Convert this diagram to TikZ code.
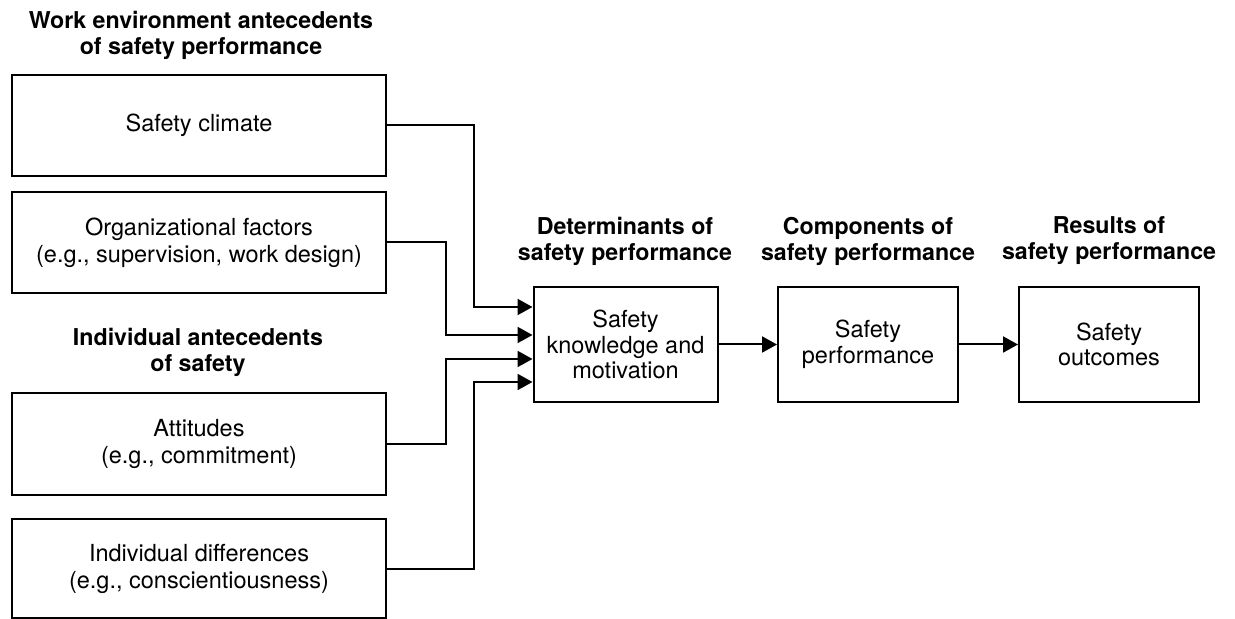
\documentclass[tikz,border=0pt]{standalone}
\usepackage{fontspec}
\setmainfont{TeX Gyre Heros}
\usetikzlibrary{arrows.meta}

\tikzset{
	box/.style={draw,line width=1pt,align=center,inner sep=0pt,font=\fontsize{11.75}{13.5}\selectfont},
	srcbox/.style={box,minimum width=187pt,minimum height=50.5pt},
	flowbox/.style={box,minimum width=92pt,minimum height=57.5pt,font=\fontsize{11.75}{12.75}\selectfont},
	heading/.style={align=center,font=\fontsize{11.6}{13}\selectfont\bfseries},
	feed/.style={line width=1pt,-{Triangle[length=7.5pt,width=8pt]}},
}

\begin{document}
\begin{tikzpicture}[x=0.5pt,y=-0.5pt]
	\useasboundingbox (0,0) rectangle (1235,619);
	\node[heading] (hwork) at (201,35) {Work environment antecedents\\of safety performance};
	\node[srcbox] (clim) at (199,125.5) {Safety climate};
	\node[srcbox] (org) at (199,242.5) {Organizational factors\\(e.g., supervision, work design)};
	\node[heading] (hind) at (198,352) {Individual antecedents\\of safety};
	\node[srcbox] (att) at (199,444) {Attitudes\\(e.g., commitment)};
	\node[srcbox,minimum height=49.5pt] (diff) at (199,568.5) {Individual differences\\(e.g., conscientiousness)};
	\node[heading] (hdet) at (625,241) {Determinants of\\safety performance};
	\node[heading] (hcomp) at (868,241) {Components of\\safety performance};
	\node[heading] (hres) at (1109,241) {Results of\\safety performance};
	\node[flowbox] (know) at (625.5,344.5) {Safety\\knowledge and\\motivation};
	\node[flowbox,minimum width=90pt] (perf) at (868,344.5) {Safety\\performance};
	\node[flowbox,minimum width=90pt] (outc) at (1109,344.5) {Safety\\outcomes};
	\draw[feed] (clim.east) -| (474,307) -- (know.west |- 0,307);
	\draw[feed] (org.east) -| (446,335) -- (know.west |- 0,335);
	\draw[feed] (att.east) -| (446,359) -- (know.west |- 0,359);
	\draw[feed] (diff.east) -| (474,382) -- (know.west |- 0,382);
	\draw[feed] (know) -- (perf);
	\draw[feed] (perf) -- (outc);
\end{tikzpicture}
\end{document}
